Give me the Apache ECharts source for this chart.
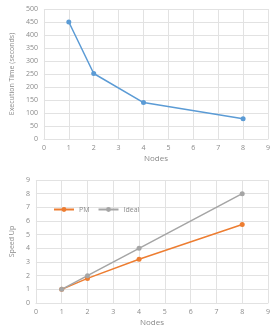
<!DOCTYPE html>
<html>
<head>
<meta charset="utf-8">
<script src="https://cdn.jsdelivr.net/npm/echarts@6/dist/echarts.min.js"></script>
<style>
  html, body { margin: 0; padding: 0; background: #fff; }
  #chart { width: 273px; height: 328px; }
</style>
</head>
<body>
<div id="chart"></div>
<script>
// 数据
const nodes = [1, 2, 4, 8];
const execTime = [450, 252, 140, 78];
const speedPM = [1, 1.8, 3.2, 5.75];
const speedIdeal = [1, 2, 4, 8];

const gridColor = '#e2e2e2';
const labelColor = '#8a8a8a';
const fontFamily = 'Open Sans, sans-serif';

const pairs = (xs, ys) => xs.map((x, i) => [x, ys[i]]);

const xAxisBase = (gridIndex) => ({
  gridIndex,
  type: 'value',
  min: 0,
  max: 9,
  interval: 1,
  name: 'Nodes',
  nameLocation: 'middle',
  nameGap: 16,
  nameTextStyle: { color: labelColor, fontSize: 8, fontFamily },
  axisLine: { show: true, lineStyle: { color: gridColor } },
  axisTick: { show: false },
  axisLabel: { color: labelColor, fontSize: 7, fontFamily, margin: 5 },
  splitLine: { show: true, lineStyle: { color: gridColor, width: 1 } },
});

const yAxisBase = (gridIndex, max, interval, name, gap) => ({
  gridIndex,
  type: 'value',
  min: 0,
  max,
  interval,
  name,
  nameLocation: 'middle',
  nameGap: gap,
  nameTextStyle: { color: labelColor, fontSize: 7, fontFamily },
  axisLine: { show: false },
  axisTick: { show: false },
  axisLabel: { color: labelColor, fontSize: 7, fontFamily, margin: 6 },
  splitLine: { show: true, lineStyle: { color: gridColor, width: 1 } },
});

const myChart = echarts.init(document.getElementById('chart'));
myChart.setOption({
  animation: false,
  grid: [
    { left: 29, right: 4, top: 9, height: 130 },
    { left: 27, right: 5, top: 180, height: 126 },
  ],
  xAxis: [xAxisBase(0), xAxisBase(1)],
  yAxis: [
    yAxisBase(0, 500, 50, 'Execution Time (seconds)', 19),
    yAxisBase(1, 9, 1, 'Speed Up', 14),
  ],
  legend: {
    left: 48,
    top: 201,
    itemWidth: 20,
    itemHeight: 6,
    itemGap: 8,
    textStyle: { color: labelColor, fontSize: 7, fontFamily },
    data: ['PM', 'Ideal'],
  },
  series: [
    {
      name: 'Time',
      type: 'line',
      xAxisIndex: 0,
      yAxisIndex: 0,
      data: pairs(nodes, execTime),
      symbol: 'circle',
      symbolSize: 5,
      lineStyle: { color: '#5b9bd5', width: 1.5 },
      itemStyle: { color: '#5b9bd5' },
    },
    {
      name: 'PM',
      type: 'line',
      xAxisIndex: 1,
      yAxisIndex: 1,
      data: pairs(nodes, speedPM),
      symbol: 'circle',
      symbolSize: 5,
      lineStyle: { color: '#ed7d31', width: 1.5 },
      itemStyle: { color: '#ed7d31' },
    },
    {
      name: 'Ideal',
      type: 'line',
      xAxisIndex: 1,
      yAxisIndex: 1,
      data: pairs(nodes, speedIdeal),
      symbol: 'circle',
      symbolSize: 5,
      lineStyle: { color: '#a5a5a5', width: 1.5 },
      itemStyle: { color: '#a5a5a5' },
    },
  ],
});
</script>
</body>
</html>
